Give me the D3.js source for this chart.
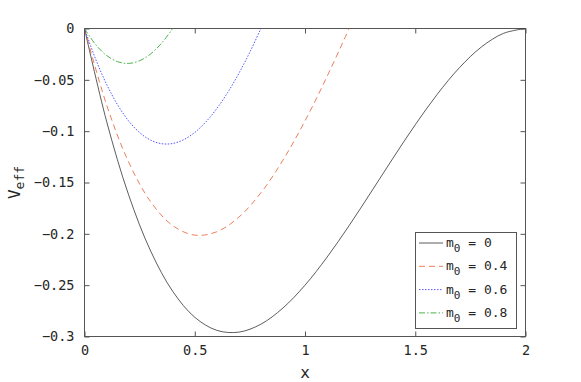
<!DOCTYPE html>
<html><head><meta charset="utf-8">
<script src="https://cdn.jsdelivr.net/npm/d3@7"></script>
<style>body{margin:0;background:#fff}svg{display:block}text{font-family:"DejaVu Sans Mono","Liberation Mono",monospace;}</style>
</head><body><svg id="c" width="581" height="382"></svg>
<script>
// Data
const xTicks = [0, 0.5, 1, 1.5, 2];
const yTicks = [0, -0.05, -0.1, -0.15, -0.2, -0.25, -0.3];
const xTickLabels = ["0", "0.5", "1", "1.5", "2"];
const yTickLabels = ["0", "−0.05", "−0.1", "−0.15", "−0.2", "−0.25", "−0.3"];
const seriesNames = ["m0 = 0", "m0 = 0.4", "m0 = 0.6", "m0 = 0.8"];
const m0Labels = ["0", "0.4", "0.6", "0.8"];
const x_m00 = [0,0.1,0.2,0.3,0.4,0.5,0.6,0.7,0.8,0.9,1.0,1.1,1.2,1.3,1.4,1.5,1.6,1.7,1.8,1.9,2.0];
const y_m00 = [0,-0.09025,-0.162,-0.21675,-0.256,-0.28125,-0.294,-0.29575,-0.288,-0.27225,-0.25,-0.22275,-0.192,-0.15925,-0.126,-0.09375,-0.064,-0.03825,-0.018,-0.00475,0];
const x_m04 = [0,0.1,0.2,0.3,0.4,0.5,0.6,0.7,0.8,0.9,1.0,1.1,1.2];
const y_m04 = [0,-0.07425,-0.13,-0.16875,-0.192,-0.20125,-0.198,-0.18375,-0.16,-0.12825,-0.09,-0.04675,0];
const x_m06 = [0,0.05,0.1,0.15,0.2,0.25,0.3,0.35,0.4,0.45,0.5,0.55,0.6,0.65,0.7,0.75,0.8];
const y_m06 = [0,-0.02953,-0.05425,-0.07434,-0.09,-0.10141,-0.10875,-0.11222,-0.112,-0.10828,-0.10125,-0.09109,-0.078,-0.06216,-0.04375,-0.02297,0];
const x_m08 = [0,0.05,0.1,0.15,0.2,0.25,0.3,0.35,0.4];
const y_m08 = [0,-0.01553,-0.02625,-0.03234,-0.034,-0.03141,-0.02475,-0.01422,0];

const seriesX = [x_m00, x_m04, x_m06, x_m08];
const seriesY = [y_m00, y_m04, y_m06, y_m08];
const colors = ["#333333", "#e8714a", "#5555ff", "#3aa83a"];
const dashes = [null, "6,4", "1.5,1.5", "6,2,1.5,2"];
const widths = [0.8, 0.9, 1.0, 0.9];

const L = 84.5, R = 525.5, T = 28.5, B = 336.5;
const FONT = '"DejaVu Sans Mono","Liberation Mono",monospace';
const svg = d3.select("#c");
const x = d3.scaleLinear().domain([0, 2]).range([L, R]);
const y = d3.scaleLinear().domain([-0.3, 0]).range([B, T]);

const axisColor = "#555";
svg.append("rect").attr("x", L).attr("y", T).attr("width", R - L).attr("height", B - T)
  .attr("fill", "none").attr("stroke", axisColor).attr("stroke-width", 1);

const xa = svg.append("g").attr("transform", `translate(0,${B})`)
  .call(d3.axisBottom(x).tickValues(xTicks).tickSizeInner(-5).tickSizeOuter(0).tickPadding(9)
    .tickFormat((d, i) => xTickLabels[i]));
const xt = svg.append("g").attr("transform", `translate(0,${T})`)
  .call(d3.axisTop(x).tickValues(xTicks).tickSizeInner(-5).tickSizeOuter(0).tickFormat(""));
const ya = svg.append("g").attr("transform", `translate(${L},0)`)
  .call(d3.axisLeft(y).tickValues(yTicks).tickSizeInner(-5).tickSizeOuter(0).tickPadding(10)
    .tickFormat((d, i) => yTickLabels[i]));
const yr = svg.append("g").attr("transform", `translate(${R},0)`)
  .call(d3.axisRight(y).tickValues(yTicks).tickSizeInner(-5).tickSizeOuter(0).tickFormat(""));
[xa, xt, ya, yr].forEach(g => {
  g.select(".domain").remove();
  g.selectAll("line").attr("stroke", axisColor);
  g.selectAll("text").attr("fill", "#262626").style("font-size", "13.5px")
    .style("font-family", FONT);
});

const clip = svg.append("defs").append("clipPath").attr("id", "clp");
clip.append("rect").attr("x", L).attr("y", T - 1).attr("width", R - L).attr("height", B - T + 2);
const line = d3.line().x(d => x(d[0])).y(d => y(d[1])).curve(d3.curveCatmullRom.alpha(0.5));
seriesX.forEach((xs, i) => {
  const pts = xs.map((v, j) => [v, seriesY[i][j]]);
  svg.append("path").datum(pts).attr("d", line).attr("fill", "none")
    .attr("stroke", colors[i]).attr("stroke-width", widths[i])
    .attr("stroke-dasharray", dashes[i]).attr("clip-path", "url(#clp)");
});

svg.append("text").attr("x", (L + R) / 2).attr("y", 378).attr("text-anchor", "middle")
  .attr("fill", "#262626").style("font-size", "16px").text("x");
const yl = svg.append("text").attr("transform", `translate(20,${(T + B) / 2}) rotate(-90)`)
  .attr("text-anchor", "middle").attr("fill", "#262626").style("font-size", "16px");
yl.append("tspan").text("V");
yl.append("tspan").attr("dy", 4).style("font-size", "13px").text("eff");

const lg = svg.append("g");
lg.append("rect").attr("x", 415.5).attr("y", 232.5).attr("width", 101).attr("height", 96)
  .attr("fill", "#fff").attr("stroke", axisColor).attr("stroke-width", 1);
seriesNames.forEach((nm, i) => {
  const yy = 243 + i * 23.3;
  lg.append("line").attr("x1", 419).attr("x2", 443).attr("y1", yy).attr("y2", yy)
    .attr("stroke", colors[i]).attr("stroke-width", widths[i]).attr("stroke-dasharray", dashes[i]);
  const t = lg.append("text").attr("x", 446).attr("y", yy + 4).attr("fill", "#262626")
    .style("font-size", "13px").attr("xml:space", "preserve");
  t.append("tspan").text("m");
  t.append("tspan").attr("dy", 5).style("font-size", "11px").text("0");
  t.append("tspan").attr("dy", -5).text(" = " + m0Labels[i]);
});
</script></body></html>
